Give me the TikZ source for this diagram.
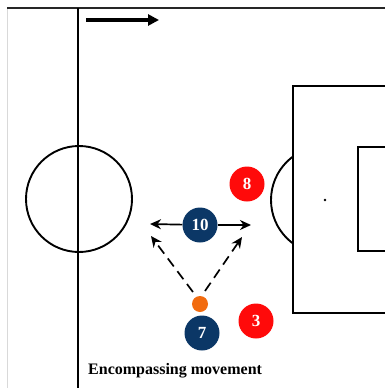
\documentclass[tikz,border=0pt]{standalone}
\usepackage{fontspec}
\setmainfont{Liberation Serif}
\usetikzlibrary{arrows.meta}
\definecolor{navy}{HTML}{0B3766}
\definecolor{redp}{HTML}{FF0A0A}
\definecolor{ballc}{HTML}{F26B0F}
\tikzset{
  pitch/.style={line width=1.9pt, black},
  player/.style={circle, minimum size=35pt, inner sep=0pt, text=white, font=\fontsize{17}{17}\selectfont\bfseries},
  blue/.style={player, fill=navy},
  red/.style={player, fill=redp},
  move/.style={line width=1.7pt, -{Stealth[length=11pt,width=10pt]}},
  run/.style={move, dash pattern=on 10pt off 6pt},
}
\begin{document}
\begin{tikzpicture}[x=1pt,y=-1pt]
\useasboundingbox (0,0) rectangle (385,388);
\fill[white] (0,0) rectangle (385,388);
\begin{scope}
\clip (0,0) rectangle (385,388);
% borders
\draw[line width=0.8pt, black!15] (7,8) -- (7,390);
\draw[line width=1.6pt, black!85] (7,8) -- (390,8);
% halfway line and centre circle
\draw[pitch] (78,8) -- (78,390);
\draw[pitch] (79,199) circle[radius=53];
% penalty box, goal area
\draw[pitch] (400,86) -- (293,86) -- (293,313) -- (400,313);
\draw[pitch] (400,147) -- (358,147) -- (358,251) -- (400,251);
\fill (325,200) circle[radius=1.4];
\begin{scope}
\clip (0,0) rectangle (293,388);
\draw[pitch] (325,200) circle[radius=54];
\end{scope}
\end{scope}
% direction of play
\coordinate (da) at (86,20);
\coordinate (db) at (159,20);
\draw[line width=4pt, -{Triangle[length=11pt,width=11pt]}] (da) -- (db);
% players
\node[red] (p8) at (247,184) {8};
\node[blue] (p10) at (200,225) {10};
\node[blue] (p7) at (202,333) {7};
\node[red] (p3) at (256,321) {3};
\node[circle, fill=ballc, minimum size=16pt, inner sep=0pt] (ball) at (200,304) {};
% movements
\coordinate (tl) at (150,224);
\coordinate (tr) at (251,225);
\coordinate (sl) at (193,292);
\coordinate (sr) at (205,291);
\coordinate (el) at (151,236);
\coordinate (er) at (242,237);
\draw[move] (p10) -- (tl);
\draw[move] (p10) -- (tr);
\draw[run] (sl) -- (el);
\draw[run] (sr) -- (er);
% caption
\node[anchor=west, inner sep=0pt, font=\fontsize{16}{16}\selectfont\bfseries] (cap) at (88,371) {Encompassing movement};
\end{tikzpicture}
\end{document}
